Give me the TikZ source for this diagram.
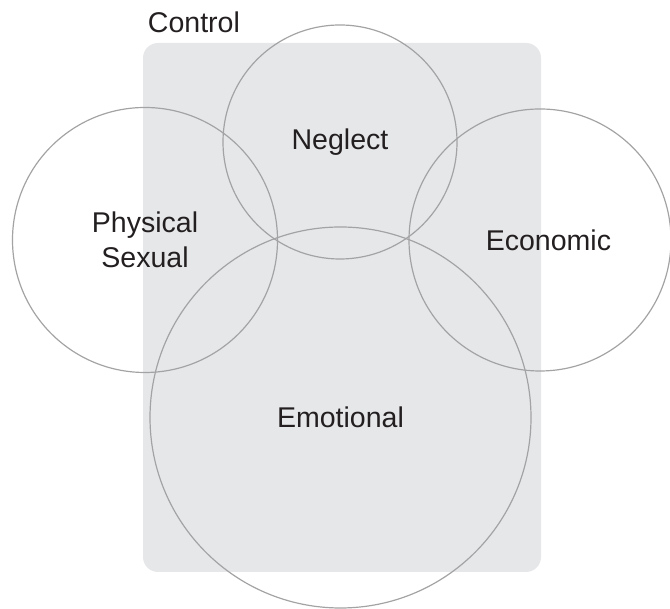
\documentclass[tikz,border=0pt]{standalone}
\usepackage{fontspec}
\setmainfont{Liberation Sans}
\definecolor{boxgrey}{HTML}{E6E7E9}
\definecolor{ringgrey}{HTML}{A3A3A5}
\definecolor{textdark}{HTML}{231F20}
\tikzset{
    ring/.style={circle, draw=ringgrey, line width=0.85pt, inner sep=0pt},
    word/.style={text=textdark, font=\fontsize{20.3}{24.9}\selectfont, align=center},
}

\begin{document}
\begin{tikzpicture}
    \useasboundingbox (0,0) rectangle (16.75,15.225);

    %Kontrollfelt
        \fill[boxgrey, rounded corners=0.375cm] (3.575,0.925) rectangle (13.525,14.15);
        \node[word, anchor=base west] (control) at (3.575,14.4) {Control};

    %Sirkler
        \node[ring, minimum size=5.85cm] (neglect) at (8.5,11.675) {};
        \node[ring, minimum size=6.625cm] (physical) at (3.625,9.225) {};
        \node[ring, minimum size=6.55cm] (economic) at (13.5,9.225) {};
        \node[ring, minimum size=9.525cm] (emotional) at (8.5125,4.7875) {};

    %Tekst
        \node[word] (neglecttext) at (neglect.center) {Neglect};
        \node[word] (physicaltext) at (physical.center) {Physical\\Sexual};
        \node[word, xshift=0.21cm] (economictext) at (economic.center) {Economic};
        \node[word] (emotionaltext) at (emotional.center) {Emotional};

\end{tikzpicture}
\end{document}
